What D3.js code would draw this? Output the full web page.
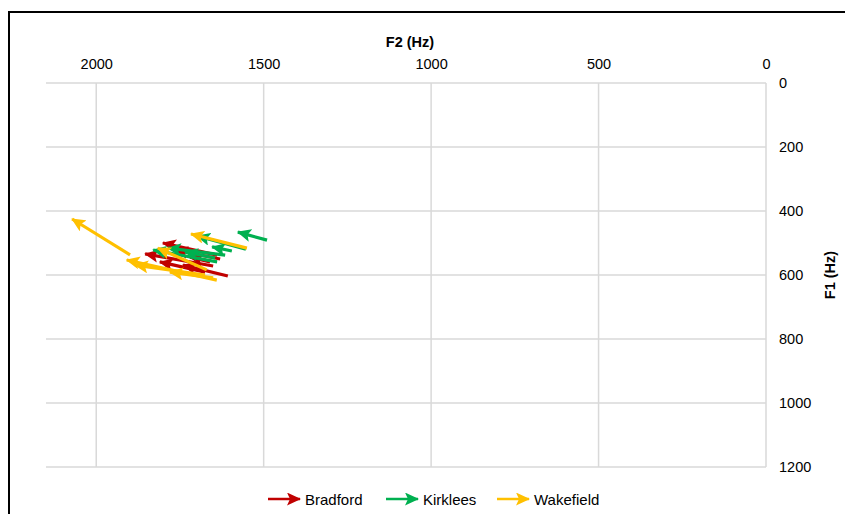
<!DOCTYPE html>
<html><head><meta charset="utf-8">
<script src="https://cdn.jsdelivr.net/npm/d3@7"></script>
<style>body{margin:0;background:#fff}svg{display:block}text{font-family:"Liberation Sans",Arial,sans-serif}</style>
</head><body>
<svg id="c" width="845" height="514"></svg>
<script>
// data: arrows [F2 start, F1 start, F2 end, F1 end]
const seriesNames = ["Bradford", "Kirklees", "Wakefield"];
const seriesColors = ["#C00000", "#00B050", "#FFC000"];
const bradford = [
  [1639, 538, 1801, 500],
  [1607, 603, 1741, 569],
  [1651, 572, 1854, 534],
  [1630, 550, 1765, 522],
  [1675, 591, 1810, 559],
  [1660, 559, 1720, 544]
];
const kirklees = [
  [1490, 491, 1577, 466],
  [1553, 519, 1699, 478],
  [1639, 559, 1830, 522],
  [1615, 538, 1786, 516],
  [1595, 525, 1654, 512],
  [1645, 547, 1735, 528]
];
const wakefield = [
  [1899, 537, 2072, 425],
  [1550, 516, 1717, 472],
  [1640, 616, 1909, 553],
  [1675, 600, 1884, 569],
  [1651, 609, 1780, 591],
  [1670, 584, 1816, 516]
];
const xTicks = [2000, 1500, 1000, 500, 0];
const yTicks = [0, 200, 400, 600, 800, 1000, 1200];

const svg = d3.select("#c");
const x = d3.scaleLinear().domain([2150, 0]).range([46, 766]);
const y = d3.scaleLinear().domain([0, 1200]).range([83, 467]);

// frame
svg.append("rect").attr("x", 9).attr("y", 12).attr("width", 900).attr("height", 600)
  .attr("fill", "none").attr("stroke", "#000").attr("stroke-width", 2);

// gridlines
svg.append("g").selectAll("line").data(xTicks).join("line")
  .attr("x1", d => x(d)).attr("x2", d => x(d)).attr("y1", y(0)).attr("y2", y(1200))
  .attr("stroke", "#d9d9d9").attr("stroke-width", 1.5);
svg.append("g").selectAll("line").data(yTicks).join("line")
  .attr("x1", x(2150)).attr("x2", x(0)).attr("y1", d => y(d)).attr("y2", d => y(d))
  .attr("stroke", "#d9d9d9").attr("stroke-width", 1.5);

// axes
const xAxis = d3.axisTop(x).tickValues(xTicks).tickSize(0).tickPadding(0).tickFormat(d3.format("d"));
const gx = svg.append("g").attr("transform", "translate(0,69)").call(xAxis);
gx.select(".domain").remove();
gx.selectAll("text").attr("font-size", 14.5).attr("fill", "#000").attr("dy", "0");
const yAxis = d3.axisRight(y).tickValues(yTicks).tickSize(0).tickPadding(0).tickFormat(d3.format("d"));
const gy = svg.append("g").attr("transform", "translate(779,0)").call(yAxis);
gy.select(".domain").remove();
gy.selectAll("text").attr("font-size", 14.5).attr("fill", "#000");

svg.append("text").attr("x", 410).attr("y", 47).attr("text-anchor", "middle")
  .attr("font-size", 14.5).attr("font-weight", "bold").text("F2 (Hz)");
svg.append("text").attr("transform", "translate(835,275) rotate(-90)").attr("text-anchor", "middle")
  .attr("font-size", 14.5).attr("font-weight", "bold").text("F1 (Hz)");

// markers
const defs = svg.append("defs");
seriesColors.forEach((c, i) => {
  defs.append("marker").attr("id", "m" + i).attr("markerUnits", "userSpaceOnUse")
    .attr("markerWidth", 15).attr("markerHeight", 13).attr("viewBox", "0 0 15 13")
    .attr("refX", 13).attr("refY", 6.5).attr("orient", "auto")
    .append("path").attr("d", "M0,0 L14,6.5 L0,13 L3,6.5 Z").attr("fill", c);
});

// arrows
const allSeries = [bradford, kirklees, wakefield];
allSeries.forEach((s, i) => {
  svg.append("g").selectAll("line").data(s).join("line")
    .attr("x1", d => x(d[0])).attr("y1", d => y(d[1]))
    .attr("x2", d => x(d[2])).attr("y2", d => y(d[3]))
    .attr("stroke", seriesColors[i]).attr("stroke-width", 3.2)
    .attr("marker-end", `url(#m${i})`);
});

// legend
const legX = [268, 386, 497];
const lg = svg.append("g");
seriesNames.forEach((n, i) => {
  lg.append("line").attr("x1", legX[i]).attr("x2", legX[i] + 32).attr("y1", 499).attr("y2", 499)
    .attr("stroke", seriesColors[i]).attr("stroke-width", 2.5).attr("marker-end", `url(#m${i})`);
  lg.append("text").attr("x", legX[i] + 37).attr("y", 504.5).attr("font-size", 15).text(n);
});
</script>
</body></html>
